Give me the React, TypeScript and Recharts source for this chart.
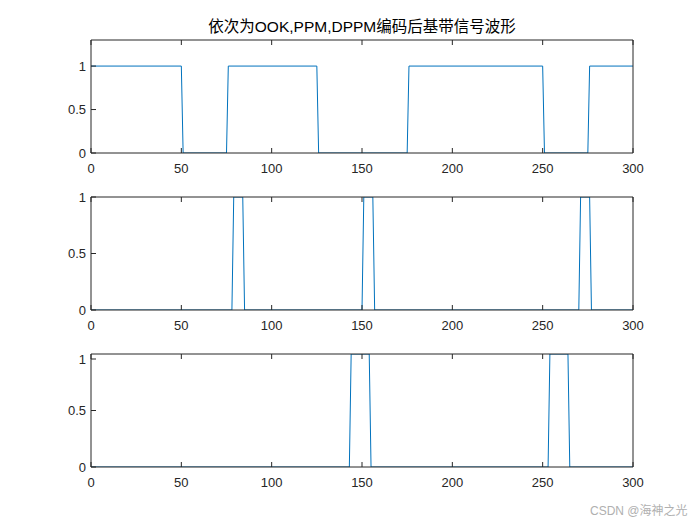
import { LineChart, Line, XAxis, YAxis } from "recharts";

// corner points of each step waveform (sample index, level)
const ookX = [0, 50, 51, 75, 76, 125, 126, 175, 176, 250, 251, 275, 276, 300];
const ookY = [1, 1, 0, 0, 1, 1, 0, 0, 1, 1, 0, 0, 1, 1];

const ppmX = [0, 78, 79, 84, 85, 150, 151, 156, 157, 270, 271, 276, 277, 300];
const ppmY = [0, 0, 1, 1, 0, 0, 1, 1, 0, 0, 1, 1, 0, 0];

const dppmX = [0, 143, 144, 154, 155, 253, 254, 264, 265, 300];
const dppmY = [0, 0, 1, 1, 0, 0, 1, 1, 0, 0];

const xTicks = [0, 50, 100, 150, 200, 250, 300];
const yTicks = [0, 0.5, 1];

const title = "依次为OOK,PPM,DPPM编码后基带信号波形";
const watermark = "CSDN @海神之光";

const zip = (xs: number[], ys: number[]) => xs.map((x, i) => ({ x, y: ys[i] }));

const AXIS = "#262626";
const FONT = "'Liberation Sans', Arial, 'Noto Sans CJK SC', sans-serif";
const TL = 5;

// axis box sizes (kept small, margins account for them)
const BH = 20;
const TH = 2;
const LW = 30;
const RW = 2;

function BottomTick(p: any) {
  return (
    <g>
      <line x1={p.x} x2={p.x} y1={p.y} y2={p.y - TL} stroke={AXIS} />
      <text x={p.x} y={p.y + 20} textAnchor="middle" fontSize={13} fill={AXIS} fontFamily={FONT}>
        {p.payload.value}
      </text>
    </g>
  );
}

function TopTick(p: any) {
  return <line x1={p.x} x2={p.x} y1={p.y} y2={p.y + TL} stroke={AXIS} />;
}

function LeftTick(p: any) {
  return (
    <g>
      <line x1={p.x} x2={p.x + TL} y1={p.y} y2={p.y} stroke={AXIS} />
      <text x={p.x - 5} y={p.y} dy="0.36em" textAnchor="end" fontSize={13} fill={AXIS} fontFamily={FONT}>
        {p.payload.value}
      </text>
    </g>
  );
}

function RightTick(p: any) {
  return <line x1={p.x} x2={p.x - TL} y1={p.y} y2={p.y} stroke={AXIS} />;
}

function Panel({
  data,
  yMax,
  top,
  mTop,
  mBottom,
}: {
  data: { x: number; y: number }[];
  yMax: number;
  top: number;
  mTop: number;
  mBottom: number;
}) {
  return (
    <div style={{ position: "absolute", left: 0, top }}>
      <LineChart
        width={700}
        height={175}
        data={data}
        margin={{ top: mTop - TH, right: 67 - RW, bottom: mBottom - BH, left: 91 - LW }}
      >
        <XAxis
          xAxisId="b"
          dataKey="x"
          type="number"
          domain={[0, 300]}
          ticks={xTicks}
          height={BH}
          tickSize={0}
          tickMargin={0}
          axisLine={{ stroke: AXIS }}
          tick={(p: any) => <BottomTick {...p} />}
          allowDataOverflow
        />
        <XAxis
          xAxisId="t"
          orientation="top"
          dataKey="x"
          type="number"
          domain={[0, 300]}
          ticks={xTicks}
          height={TH}
          tickSize={0}
          tickMargin={0}
          axisLine={{ stroke: AXIS }}
          tick={(p: any) => <TopTick {...p} />}
        />
        <YAxis
          yAxisId="l"
          type="number"
          domain={[0, yMax]}
          ticks={yTicks}
          width={LW}
          tickSize={0}
          tickMargin={0}
          axisLine={{ stroke: AXIS }}
          tick={(p: any) => <LeftTick {...p} />}
          allowDataOverflow
        />
        <YAxis
          yAxisId="r"
          orientation="right"
          type="number"
          domain={[0, yMax]}
          ticks={yTicks}
          width={RW}
          tickSize={0}
          tickMargin={0}
          axisLine={{ stroke: AXIS }}
          tick={(p: any) => <RightTick {...p} />}
        />
        <Line
          xAxisId="b"
          yAxisId="l"
          type="linear"
          dataKey="y"
          stroke="#0072BD"
          strokeWidth={1}
          dot={false}
          isAnimationActive={false}
        />
      </LineChart>
    </div>
  );
}

export default function App() {
  return (
    <div
      style={{
        position: "fixed",
        left: 0,
        top: 0,
        width: 700,
        height: 525,
        background: "#fff",
        overflow: "hidden",
        fontFamily: FONT,
      }}
    >
      <div
        style={{
          position: "absolute",
          left: 91,
          width: 542,
          top: 17,
          textAlign: "center",
          fontSize: 15.5,
          color: "#000",
          lineHeight: "20px",
        }}
      >
        {title}
      </div>
      <Panel data={zip(ookX, ookY)} yMax={1.3} top={0} mTop={40} mBottom={22} />
      <Panel data={zip(ppmX, ppmY)} yMax={1} top={175} mTop={22} mBottom={40} />
      <Panel data={zip(dppmX, dppmY)} yMax={1} top={350} mTop={4} mBottom={58} />
      <div
        style={{
          position: "absolute",
          left: 590,
          top: 503,
          fontSize: 12,
          color: "#b0b0b0",
          lineHeight: "16px",
        }}
      >
        {watermark}
      </div>
    </div>
  );
}
